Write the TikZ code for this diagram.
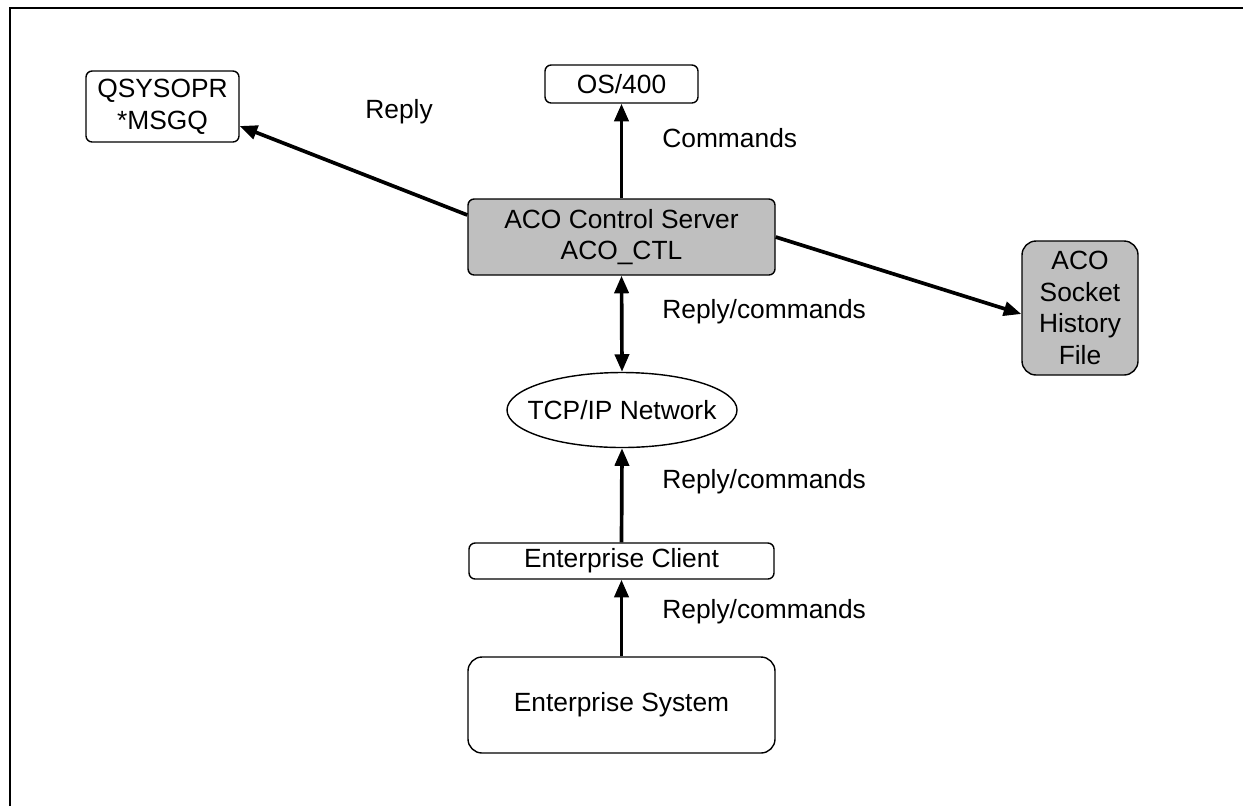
\documentclass[tikz,border=0pt]{standalone}
\usepackage{fontspec}
\setmainfont{Liberation Sans}
\usetikzlibrary{arrows.meta,shapes.geometric}
\begin{document}
\begin{tikzpicture}[x=0.02cm,y=-0.02cm,
  box/.style={draw,line width=0.8pt,rounded corners=3.5pt,inner sep=0pt,align=center,font=\fontsize{15}{18}\selectfont},
  grey/.style={fill=gray!50},
  lbl/.style={inner sep=0pt,font=\fontsize{15}{18}\selectfont,anchor=base west},
  conn/.style={line width=2.1pt,-{Triangle[length=10pt,width=8pt]}},
  conn2/.style={line width=2.1pt,{Triangle[length=10pt,width=8pt]}-{Triangle[length=10pt,width=8pt]}}]
\useasboundingbox (0,0) rectangle (1243,806);
\draw[line width=1.2pt] (10,806) -- (10,8) -- (1243,8);
\node[box,minimum width=153*0.02cm,minimum height=71*0.02cm] (q) at (162.5,106.5) {QSYSOPR\\*MSGQ};
\node[box,minimum width=153*0.02cm,minimum height=38*0.02cm] (os) at (621.5,84) {OS/400};
\node[box,grey,minimum width=307*0.02cm,minimum height=76*0.02cm] (aco) at (621.5,237) {ACO Control Server\\ACO\_CTL};
\node[box,grey,minimum width=116*0.02cm,minimum height=134*0.02cm,rounded corners=8pt] (hist) at (1080,308) {ACO\\Socket\\History\\File};
\node[draw,ellipse,line width=0.8pt,inner sep=0pt,minimum width=230*0.02cm,minimum height=75*0.02cm] (tcp) at (622,410) {};
\node[inner sep=0pt,font=\fontsize{15}{18}\selectfont] (tcpt) at (tcp.center) {TCP/IP Network};
\node[box,minimum width=305*0.02cm,minimum height=36*0.02cm] (cli) at (621.5,561) {Enterprise Client};
\node[box,minimum width=307*0.02cm,minimum height=96*0.02cm,rounded corners=8pt] (sys) at (621.5,705) {Enterprise System};
\draw[conn] (aco.west) ++(0,-22) coordinate (a1) -- (q.east |- 0,126) coordinate (q1);
\draw[conn] (aco.north) -- (os.south);
\draw[conn2] (aco.south) -- (tcp.north);
\draw[conn] (cli.north) -- (tcp.south);
\draw[conn] (sys.north) -- (cli.south);
\draw[conn] (aco.east) -- (hist.west |- 0,314);
\node[lbl] (l1) at (365,118) {Reply};
\node[lbl] (l2) at (662,147) {Commands};
\node[lbl] (l3) at (662,318) {Reply/commands};
\node[lbl] (l4) at (662,488) {Reply/commands};
\node[lbl] (l5) at (662,618) {Reply/commands};
\end{tikzpicture}
\end{document}
